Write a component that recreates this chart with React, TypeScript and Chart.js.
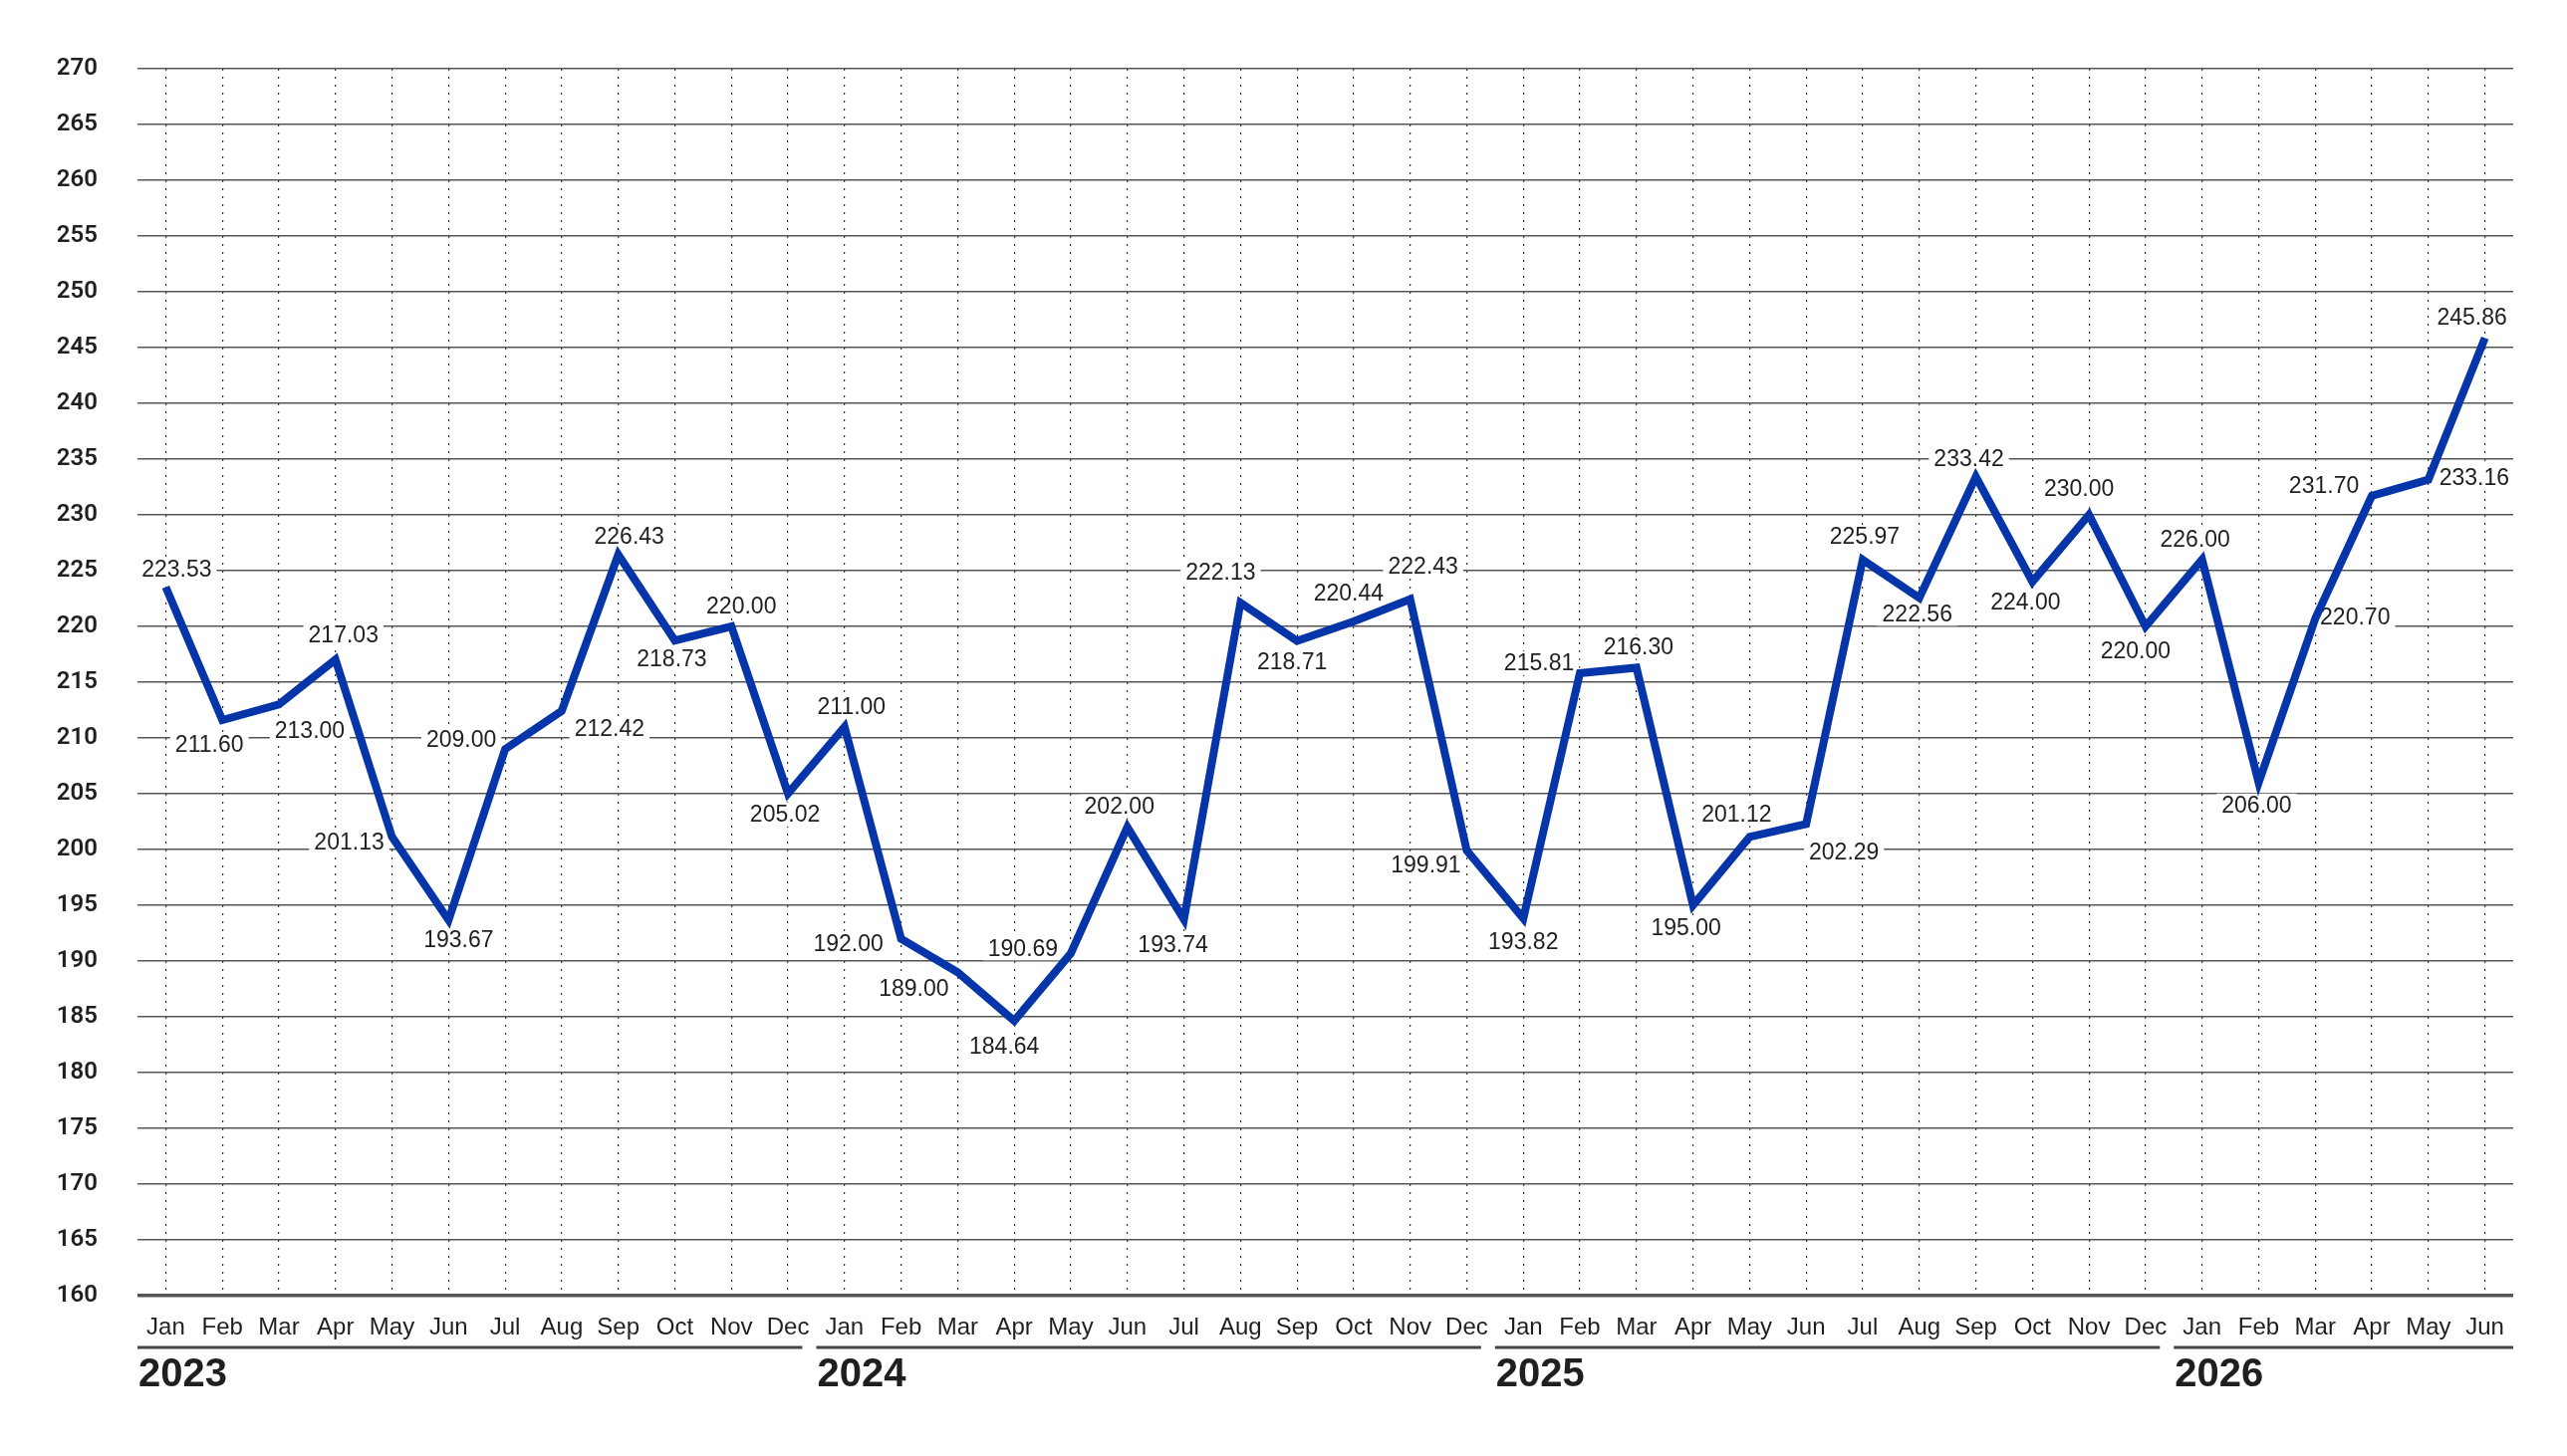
import React, { useEffect, useRef } from 'react';
import { Chart, registerables } from 'chart.js';

Chart.register(...registerables);

const MONTHS = ['Jan', 'Feb', 'Mar', 'Apr', 'May', 'Jun', 'Jul', 'Aug', 'Sep', 'Oct', 'Nov', 'Dec'];
const YEARS = ['2023', '2024', '2025', '2026'];
const MONTHS_PER_YEAR = [12, 12, 12, 6];

const values2023 = [223.53, 211.6, 213.0, 217.03, 201.13, 193.67, 209.0, 212.42, 226.43, 218.73, 220.0, 205.02];
const values2024 = [211.0, 192.0, 189.0, 184.64, 190.69, 202.0, 193.74, 222.13, 218.71, 220.44, 222.43, 199.91];
const values2025 = [193.82, 215.81, 216.3, 195.0, 201.12, 202.29, 225.97, 222.56, 233.42, 224.0, 230.0, 220.0];
const values2026 = [226.0, 206.0, 220.7, 231.7, 233.16, 245.86];

const Y_MIN = 160;
const Y_MAX = 270;
const Y_STEP = 5;

const categories: string[] = [];
YEARS.forEach((y, i) => {
  for (let m = 0; m < MONTHS_PER_YEAR[i]; m++) categories.push(MONTHS[m]);
});
const values = [...values2023, ...values2024, ...values2025, ...values2026];

// label placement (dx, dy) relative to the point, in pixels
const labelOffsets: [number, number][] = [
  [11, -18], [-13, 25], [31, 26], [8, -25], [-43, 5], [10, 20], [-44, -10], [48, 18], [11, -18], [-3, 18], [10, -20], [-3, 21],
  [7, -20], [-53, 5], [-44, 16], [-10, 26], [-48, -5], [-8, -21], [-11, 26], [-20, -30], [-5, 21], [-5, -28], [13, -33], [-41, 15],
  [0, 23], [-41, -10], [2, -21], [-7, 23], [-13, -23], [38, 28], [2, -23], [-2, 16], [-7, -18], [-7, 20], [-10, -26], [-10, 25],
  [-7, -20], [-2, 23], [40, -2], [-48, -10], [46, -2], [-13, -21],
];

const TEXT = '#1f1f1f';
const LINE = '#0635aa';

const valueLabelPlugin = {
  id: 'valueLabels',
  beforeDatasetsDraw(chart: any) {
    const ctx = chart.ctx;
    const meta = chart.getDatasetMeta(0);
    ctx.save();
    ctx.font = '23px "Liberation Sans", Arial, sans-serif';
    ctx.textAlign = 'center';
    ctx.textBaseline = 'middle';
    meta.data.forEach((pt: any, i: number) => {
      const [dx, dy] = labelOffsets[i] || [0, -20];
      const text = values[i].toFixed(2);
      const x = pt.x + dx;
      const y = pt.y + dy;
      const w = ctx.measureText(text).width;
      ctx.fillStyle = '#ffffff';
      ctx.fillRect(x - w / 2 - 5, y - 12, w + 10, 24);
      ctx.fillStyle = TEXT;
      ctx.fillText(text, x, y + 1);
    });
    ctx.restore();
  },
};

const yearPlugin = {
  id: 'yearGroups',
  afterDraw(chart: any) {
    const ctx = chart.ctx;
    const xs = chart.scales.x;
    const area = chart.chartArea;
    const slot = (area.right - area.left) / categories.length;
    ctx.save();
    let start = 0;
    YEARS.forEach((yr, i) => {
      const n = MONTHS_PER_YEAR[i];
      const left = xs.getPixelForValue(start) - slot / 2;
      const isLast = i === YEARS.length - 1;
      const right = isLast ? area.right : xs.getPixelForValue(start + n - 1) + slot / 2 - 14;
      ctx.strokeStyle = '#444';
      ctx.lineWidth = 3;
      ctx.beginPath();
      ctx.moveTo(left, 1353);
      ctx.lineTo(right, 1353);
      ctx.stroke();
      ctx.fillStyle = TEXT;
      ctx.font = 'bold 40px "Liberation Sans", Arial, sans-serif';
      ctx.textAlign = 'left';
      ctx.textBaseline = 'middle';
      ctx.fillText(yr, left + 1, 1381);
      start += n;
    });
    ctx.restore();
  },
};

export default function App() {
  const ref = useRef<HTMLCanvasElement | null>(null);

  useEffect(() => {
    if (!ref.current) return;
    const chart = new Chart(ref.current, {
      type: 'line',
      data: {
        labels: categories,
        datasets: [
          {
            data: values,
            borderColor: LINE,
            backgroundColor: LINE,
            borderWidth: 8,
            pointRadius: 0,
            tension: 0,
            borderJoinStyle: 'miter',
            fill: false,
          },
        ],
      },
      options: {
        responsive: false,
        animation: false,
        devicePixelRatio: 1,
        layout: { padding: { top: 69, right: 54, left: 0, bottom: 0 } },
        plugins: {
          legend: { display: false },
          tooltip: { enabled: false },
          title: { display: false },
        },
        scales: {
          x: {
            type: 'category',
            offset: true,
            grid: {
              display: true,
              offset: false,
              drawTicks: false,
              color: '#333',
              lineWidth: 1.2,
            },
            border: { display: false, dash: [2, 6] },
            ticks: {
              autoSkip: false,
              maxRotation: 0,
              minRotation: 0,
              padding: 18,
              color: TEXT,
              font: { family: '"Liberation Sans", Arial, sans-serif', size: 24 },
            },
            afterFit(scale: any) {
              scale.height = 161;
            },
          },
          y: {
            min: Y_MIN,
            max: Y_MAX,
            grid: {
              drawTicks: false,
              color: '#555',
              lineWidth: (c: any) => (c.tick && c.tick.value === Y_MIN ? 3.5 : 1.5),
            },
            border: { display: false },
            ticks: {
              stepSize: Y_STEP,
              padding: 40,
              color: TEXT,
              font: { family: 'Roboto, "Liberation Sans", Arial, sans-serif', size: 24, weight: '600' },
            },
            afterFit(scale: any) {
              scale.width = 138;
            },
          },
        },
      },
      plugins: [valueLabelPlugin, yearPlugin],
    } as any);
    return () => chart.destroy();
  }, []);

  return (
    <div style={{ position: 'fixed', left: 0, top: 0, width: 2577, height: 1462, background: '#fff' }}>
      <canvas ref={ref} width={2577} height={1462} style={{ width: 2577, height: 1462, display: 'block' }} />
    </div>
  );
}
